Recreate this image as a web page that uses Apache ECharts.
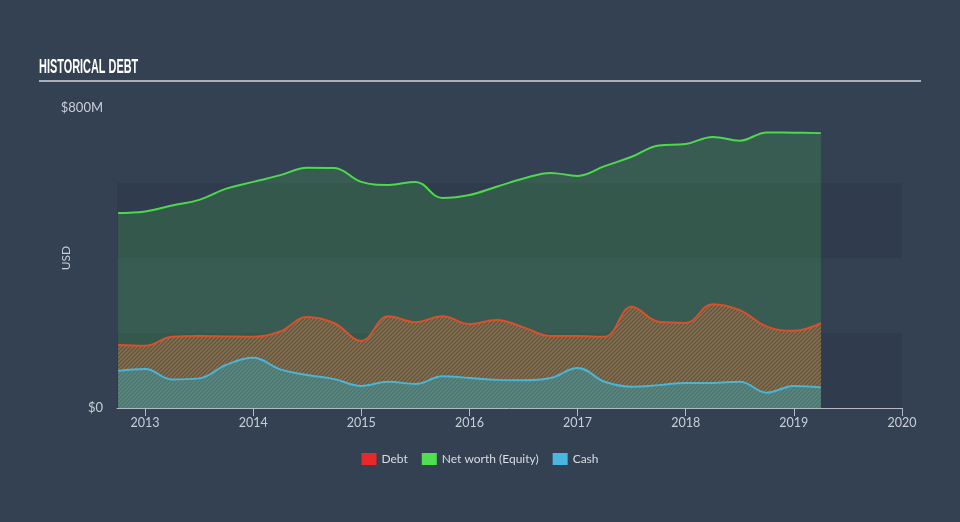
<!DOCTYPE html>
<html>
<head>
<meta charset="utf-8">
<script src="https://cdn.jsdelivr.net/npm/echarts@6/dist/echarts.min.js"></script>
<style>
html,body{margin:0;padding:0;background:#344152;}
#chart{width:960px;height:522px;}
</style>
</head>
<body>
<div id="chart"></div>
<script>
// Quarter-end dates as decimal years
const dates = [2012.75,2013.0,2013.25,2013.5,2013.75,2014.0,2014.25,2014.5,2014.75,2015.0,2015.25,2015.5,2015.75,2016.0,2016.25,2016.5,2016.75,2017.0,2017.25,2017.5,2017.75,2018.0,2018.25,2018.5,2018.75,2019.0,2019.25];
// Values in $M
const equity = [520,524,540,555,585,603,621,641,640,603,595,603,560,568,590,612,627,619,645,670,700,704,723,713,735,734,733];
const debt = [168,166,190,192,191,190,204,243,226,179,245,229,245,224,235,215,192,192,190,270,230,227,277,261,217,206,226];
const cash = [99,104,76,79,115,134,103,88,77,59,70,64,85,80,75,74,80,107,70,57,61,67,67,70,41,59,55];
const yearTicks = [2013,2014,2015,2016,2017,2018,2019,2020];

function stripe(bg, fg) {
  const c = document.createElement('canvas');
  c.width = 4; c.height = 4;
  const g = c.getContext('2d');
  if (bg) { g.fillStyle = bg; g.fillRect(0,0,4,4); }
  g.strokeStyle = fg; g.lineWidth = 1.3;
  g.beginPath();
  g.moveTo(0,4); g.lineTo(4,0);
  g.moveTo(-1,1); g.lineTo(1,-1);
  g.moveTo(3,5); g.lineTo(5,3);
  g.stroke();
  return c;
}

const pair = a => dates.map((d,i)=>[d,a[i]]);
const chart = echarts.init(document.getElementById('chart'));
chart.setOption({
  backgroundColor: '#344152',
  animation: false,
  graphic: [
    {type:'text', left:39, top:57, scaleX:0.52, originX:0,
      style:{text:'HISTORICAL DEBT', fill:'#ffffff', font:'bold 21px "Liberation Sans",sans-serif'}},
    {type:'line', shape:{x1:39,y1:81,x2:921,y2:81}, style:{stroke:'#a9b0ba', lineWidth:2}},
    {type:'text', x:66, y:258, rotation:Math.PI/2,
      style:{text:'USD', fill:'#c9cfd7', font:'12px Lato, sans-serif', align:'center', verticalAlign:'middle'}}
  ],
  legend: {
    top: 448, left: 'center',
    itemWidth: 15, itemHeight: 12, itemGap: 14,
    icon: 'rect',
    textStyle: {color:'#d8dde3', fontSize:12, fontFamily:'Lato, sans-serif'},
    data: [
      {name:'Debt', itemStyle:{color:'#e8282a'}},
      {name:'Net worth (Equity)', itemStyle:{color:'#4fe04f'}},
      {name:'Cash', itemStyle:{color:'#4ab7e0'}}
    ]
  },
  grid: {left:117, right:58, top:108, bottom:114, containLabel:false},
  xAxis: {
    type:'value', min:2012.74, max:2020,
    axisLine:{show:true, lineStyle:{color:'#b3bac4', width:1}},
    axisTick:{show:true, customValues: yearTicks, length:8, lineStyle:{color:'#b3bac4'}},
    axisLabel:{customValues: yearTicks, color:'#c9cfd7', fontSize:12.5, fontFamily:'Lato, sans-serif', margin:8, formatter: v => String(Math.round(v))},
    splitLine:{show:false}
  },
  yAxis: {
    type:'value', min:0, max:800, interval:200,
    axisLine:{show:false}, axisTick:{show:false},
    axisLabel:{color:'#c9cfd7', fontSize:13, fontFamily:'Lato, sans-serif', margin:14,
      formatter: v => v===0 ? '$0' : (v===800 ? '$800M' : '')},
    splitLine:{show:false},
    splitArea:{show:true, areaStyle:{color:['#303c4d','rgba(0,0,0,0)']}}
  },
  series: [
    {name:'Net worth (Equity)', type:'line', data:pair(equity), smooth:0.4, symbol:'none',
      lineStyle:{color:'#4cd94c', width:2}, itemStyle:{color:'#4fe04f'},
      areaStyle:{color:'rgba(78,222,78,0.25)', origin:'start'}, z:2},
    {name:'Debt', type:'line', data:pair(debt), smooth:0.4, symbol:'none',
      lineStyle:{color:'#d9502c', width:2}, itemStyle:{color:'#e8282a'},
      areaStyle:{color:{image: stripe('#3d6551','#b8603c'), repeat:'repeat'}, opacity:1, origin:'start'}, z:3},
    {name:'Cash', type:'line', data:pair(cash), smooth:0.4, symbol:'none',
      lineStyle:{color:'#4ab5d6', width:2}, itemStyle:{color:'#4ab7e0'},
      areaStyle:{color:{image: stripe('#5b6f64','#4b9090'), repeat:'repeat'}, opacity:1, origin:'start'}, z:4}
  ]
});
</script>
</body>
</html>
